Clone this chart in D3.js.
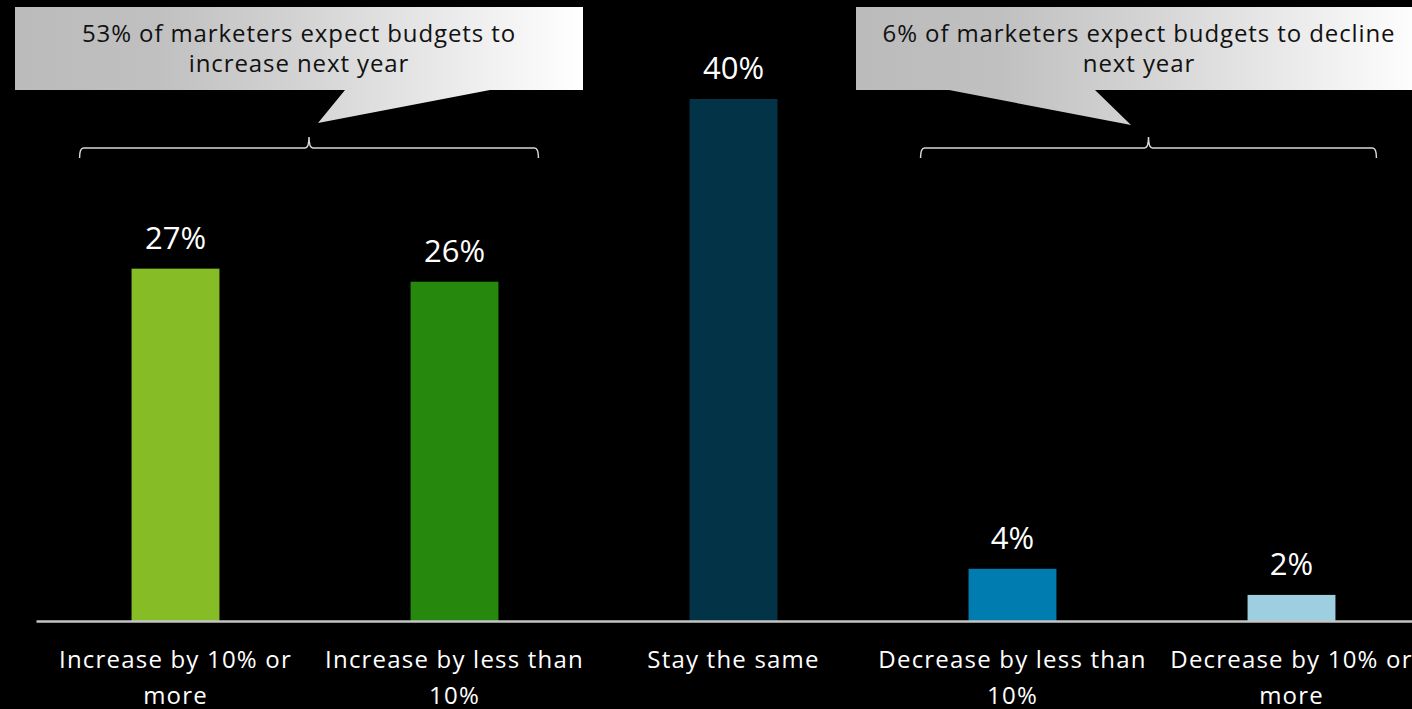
<!DOCTYPE html>
<html>
<head>
<meta charset="utf-8">
<script src="https://cdn.jsdelivr.net/npm/d3@7"></script>
<style>
  html, body { margin: 0; padding: 0; background: #000; }
  svg { display: block; }
  text { font-family: "Open Sans", sans-serif; }
</style>
</head>
<body>
<svg id="chart" width="1412" height="709"></svg>
<script>
// Budget expectations for next year (% of marketers)
const categories = [
  "Increase by 10% or more",
  "Increase by less than 10%",
  "Stay the same",
  "Decrease by less than 10%",
  "Decrease by 10% or more"
];
const labelLines = [
  ["Increase by 10% or", "more"],
  ["Increase by less than", "10%"],
  ["Stay the same"],
  ["Decrease by less than", "10%"],
  ["Decrease by 10% or", "more"]
];
const values = [27, 26, 40, 4, 2];
const barColors = ["#86bc25", "#26890d", "#033347", "#007cb0", "#9dcfe1"];

const callouts = [
  { lines: ["53% of marketers expect budgets to", "increase next year"], from: 0, to: 1 },
  { lines: ["6% of marketers expect budgets to decline", "next year"], from: 3, to: 4 }
];

const W = 1412, H = 709;
const svg = d3.select("#chart");
svg.append("rect").attr("width", W).attr("height", H).attr("fill", "#000");

const x = d3.scaleBand().domain(categories).range([36, 1431]).paddingInner(0.685).paddingOuter(0.3425);
const y = d3.scaleLinear().domain([0, 40]).range([621, 99]);

// gradient for callout boxes
const defs = svg.append("defs");
const grad = defs.append("linearGradient").attr("id", "calloutFill")
  .attr("x1", "0%").attr("x2", "100%").attr("y1", "0%").attr("y2", "0%");
grad.append("stop").attr("offset", "0%").attr("stop-color", "#bbbbbb");
grad.append("stop").attr("offset", "25%").attr("stop-color", "#c0c0c0");
grad.append("stop").attr("offset", "50%").attr("stop-color", "#d3d3d3");
grad.append("stop").attr("offset", "100%").attr("stop-color", "#ffffff");

// bars
svg.append("g").selectAll("rect").data(values).join("rect")
  .attr("x", (d, i) => x(categories[i]))
  .attr("y", d => y(d))
  .attr("width", x.bandwidth())
  .attr("height", d => y(0) - y(d))
  .attr("fill", (d, i) => barColors[i]);

// value labels
svg.append("g").selectAll("text").data(values).join("text")
  .attr("x", (d, i) => x(categories[i]) + x.bandwidth() / 2)
  .attr("y", d => y(d) - 20)
  .attr("text-anchor", "middle")
  .attr("fill", "#fff")
  .attr("font-size", 31)
  .text(d => d + "%");

// baseline axis
const axis = d3.axisBottom(x).tickSize(0).tickFormat("");
const gx = svg.append("g").attr("transform", `translate(0,${y(0)})`).call(axis);
gx.select(".domain").attr("stroke", "#c4c4c4").attr("stroke-width", 2.5);

// category labels
const catG = svg.append("g");
labelLines.forEach((lines, i) => {
  const t = catG.append("text")
    .attr("x", x(categories[i]) + x.bandwidth() / 2)
    .attr("y", 668)
    .attr("text-anchor", "middle")
    .attr("fill", "#fff")
    .attr("font-size", 24)
    .attr("letter-spacing", 1.2);
  lines.forEach((ln, j) => {
    t.append("tspan").attr("x", x(categories[i]) + x.bandwidth() / 2)
      .attr("dy", j === 0 ? 0 : 36).text(ln);
  });
});

// brace path
function brace(x0, x1, yTop, yMid, yEnd) {
  const c = (x0 + x1) / 2, r = 4;
  return `M${x0},${yEnd} Q${x0},${yMid} ${x0 + r},${yMid} L${c - r},${yMid} Q${c},${yMid} ${c},${yTop}` +
         ` Q${c},${yMid} ${c + r},${yMid} L${x1 - r},${yMid} Q${x1},${yMid} ${x1},${yEnd}`;
}

// callout geometry, placed relative to the bars it summarizes
const calloutGeom = [
  { bx: 15, bw: 568, base: [345, 490], tip: [318, 123], brace: [-52, 40] },
  { bx: 856, bw: 568, base: [949, 1095], tip: [1131, 125], brace: [-48, 41] }
];

callouts.forEach((c, k) => {
  const g = svg.append("g");
  const geo = calloutGeom[k];
  const bx0 = x(categories[c.from]) + geo.brace[0];
  const bx1 = x(categories[c.to]) + x.bandwidth() + geo.brace[1];
  g.append("path")
    .attr("d", brace(bx0, bx1, 137, 148, 158))
    .attr("fill", "none").attr("stroke", "#d8d8d8").attr("stroke-width", 1.5);

  const top = 7, bot = 90;
  const p = d3.path();
  p.moveTo(geo.bx, top);
  p.lineTo(geo.bx + geo.bw, top);
  p.lineTo(geo.bx + geo.bw, bot);
  p.lineTo(geo.base[1], bot);
  p.lineTo(geo.tip[0], geo.tip[1]);
  p.lineTo(geo.base[0], bot);
  p.lineTo(geo.bx, bot);
  p.closePath();
  g.append("path").attr("d", p.toString()).attr("fill", "url(#calloutFill)");

  const cx = k === 0 ? 299 : 1139;
  const t = g.append("text").attr("text-anchor", "middle").attr("fill", "#111")
    .attr("font-size", 24).attr("letter-spacing", 0.9).attr("y", 42);
  c.lines.forEach((ln, j) => {
    t.append("tspan").attr("x", cx).attr("dy", j === 0 ? 0 : 30).text(ln);
  });
});
</script>
</body>
</html>
